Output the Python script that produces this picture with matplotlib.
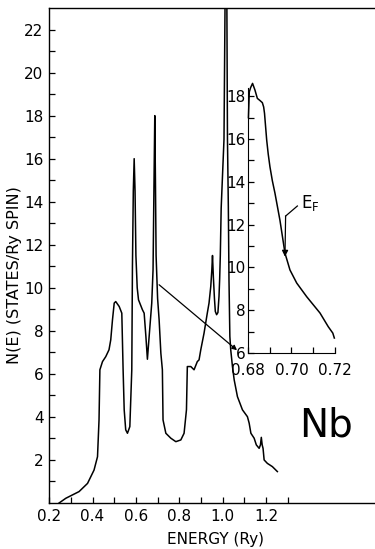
import matplotlib
matplotlib.use("Agg")
import matplotlib.pyplot as plt
import numpy as np

plt.rcParams['font.family'] = ['DejaVu Sans']

energy = [0.246, 0.277, 0.338, 0.377, 0.407, 0.423, 0.430, 0.434, 0.446, 0.461,
          0.476, 0.484, 0.492, 0.500, 0.507, 0.523, 0.535, 0.541, 0.546, 0.553,
          0.561, 0.572, 0.581, 0.584, 0.588, 0.592, 0.596, 0.600, 0.606, 0.612,
          0.630, 0.638, 0.646, 0.653, 0.661, 0.673, 0.679, 0.683, 0.687, 0.690,
          0.693, 0.700, 0.707, 0.715, 0.722, 0.725, 0.738, 0.761, 0.784, 0.807,
          0.822, 0.833, 0.837, 0.853, 0.868, 0.883, 0.891, 0.899, 0.914, 0.929,
          0.937, 0.945, 0.950, 0.953, 0.957, 0.962, 0.966, 0.972, 0.978, 0.983,
          0.986, 0.989, 0.993, 1.006, 1.013, 1.018, 1.022, 1.026, 1.029, 1.033,
          1.037, 1.045, 1.053, 1.068, 1.091, 1.114, 1.122, 1.130, 1.145, 1.155,
          1.168, 1.174, 1.178, 1.182, 1.186, 1.191, 1.206, 1.229, 1.252]
dos = [0.0, 0.22, 0.53, 0.91, 1.53, 2.15, 3.86, 6.19, 6.57, 6.80,
       7.12, 7.58, 8.51, 9.29, 9.36, 9.13, 8.82, 6.19, 4.33, 3.40,
       3.24, 3.55, 6.19, 11.0, 14.5, 16.0, 14.5, 11.5, 10.0, 9.44,
       8.98, 8.82, 7.74, 6.68, 7.74, 9.29, 10.84, 14.5, 18.0, 15.0,
       11.5, 9.5, 8.51, 6.96, 6.19, 3.86, 3.24, 3.01, 2.85, 2.93,
       3.24, 4.33, 6.34, 6.34, 6.19, 6.57, 6.65, 7.12, 7.89, 8.82,
       9.29, 10.06, 10.84, 11.5, 10.5, 9.5, 8.9, 8.75, 8.85, 9.6,
       10.4, 11.5, 13.7, 16.9, 26.0, 26.0, 16.9, 13.77, 10.37, 7.74,
       7.12, 6.34, 5.72, 4.94, 4.33, 4.01, 3.71, 3.24, 3.01, 2.70,
       2.54, 2.70, 3.05, 2.70, 2.54, 2.00, 1.84, 1.69, 1.46]

# enlarged region near the Fermi level
energy_zoom = [0.6802, 0.6806, 0.6812, 0.6821, 0.6832, 0.6843, 0.6855, 0.6866,
               0.6872, 0.6876, 0.6880, 0.6886, 0.6893, 0.6901, 0.6912, 0.6924,
               0.6947, 0.6970, 0.6993, 0.7024, 0.7070, 0.7131, 0.7169, 0.7190,
               0.7197]
dos_zoom = [17.0, 18.2, 18.4, 18.6, 18.29, 17.9, 17.8, 17.7,
            17.5, 17.2, 16.7, 15.95, 15.3, 14.7, 14.05, 13.47,
            12.2, 10.67, 9.88, 9.27, 8.63, 7.87, 7.23, 6.93,
            6.7]

main_xticks = np.round(np.arange(0.2, 1.31, 0.1), 2)
main_xlabels = ['0.2', '', '0.4', '', '0.6', '', '0.8', '', '1.0', '', '1.2', '']
main_yticks = np.arange(1, 23)
inset_xticks = [0.68, 0.69, 0.70, 0.71, 0.72]
inset_xlabels = ['0.68', '', '0.70', '', '0.72']
inset_yticks = np.arange(6, 19)

e_fermi = 0.697

fig = plt.figure(figsize=(3.75, 5.49), dpi=100)
ax = fig.add_axes([0.131, 0.0838, 0.869, 0.9016])
ax.plot(energy, dos, color='black', lw=1.1)
ax.set_xlim(0.2, 1.702)
ax.set_ylim(0, 23)
ax.spines['right'].set_visible(False)
for s in ax.spines.values():
    s.set_linewidth(1.0)
ax.set_xticks(main_xticks)
ax.set_xticklabels(main_xlabels)
ax.set_yticks(main_yticks)
ax.set_yticklabels([str(v) if v % 2 == 0 else '' for v in main_yticks])
ax.tick_params(direction='in', length=4.5, width=0.9, labelsize=11, pad=4)
ax.set_xlabel('ENERGY (Ry)', fontsize=11)
ax.set_ylabel('N(E) (STATES/Ry SPIN)', fontsize=11.5)
ax.xaxis.set_label_coords(0.51, -0.058)
ax.yaxis.set_label_coords(-0.082, 0.46)
ax.text(1.476, 3.58, 'Nb', fontsize=28, ha='center', va='center')

# pointer from the 0.69 Ry peak to the enlarged view
ax.annotate('', xy=(1.066, 7.1), xytext=(0.707, 10.14),
            arrowprops=dict(arrowstyle='-|>', color='black', lw=0.9,
                            mutation_scale=7, shrinkA=0, shrinkB=0))

ins = fig.add_axes([0.6613, 0.357, 0.232, 0.495])
ins.plot(energy_zoom, dos_zoom, color='black', lw=1.1, clip_on=False)
ins.set_xlim(0.68, 0.72)
ins.set_ylim(6, 18.7)
ins.patch.set_alpha(0)
ins.spines['top'].set_visible(False)
ins.spines['right'].set_visible(False)
ins.spines['left'].set_bounds(6, 18.4)
ins.spines['bottom'].set_bounds(0.68, 0.72)
ins.set_xticks(inset_xticks)
ins.set_xticklabels(inset_xlabels)
ins.set_yticks(inset_yticks)
ins.set_yticklabels([str(v) if v % 2 == 0 else '' for v in inset_yticks])
ins.tick_params(direction='in', length=4.5, width=0.9, labelsize=11, pad=2)
ins.tick_params(axis='x', pad=7)

# Fermi level marker
ins.plot([0.7027, 0.6973], [12.87, 12.4], color='black', lw=0.9)
ins.annotate('', xy=(e_fermi, 10.5), xytext=(0.6973, 12.4),
             arrowprops=dict(arrowstyle='-|>', color='black', lw=0.9,
                             mutation_scale=9, shrinkA=0, shrinkB=0))
ins.text(0.7042, 13.0, r'$\mathregular{E_F}$', fontsize=12, ha='left', va='center')

fig.savefig('out.png', dpi=100)
